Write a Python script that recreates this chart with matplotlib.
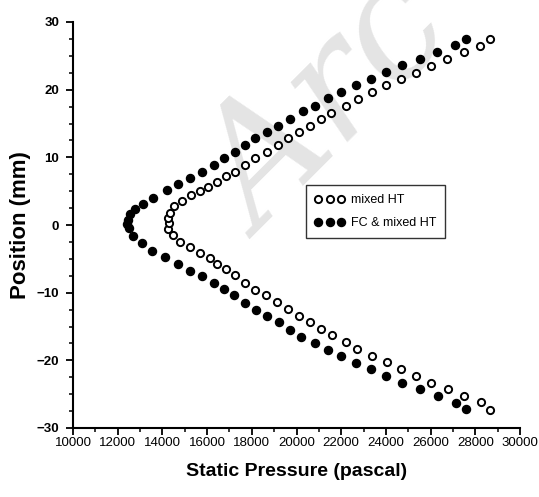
import matplotlib
matplotlib.use("Agg")
import matplotlib.pyplot as plt
from matplotlib.ticker import MultipleLocator

# mixed HT (open markers)
mixed_pos = [-27.3, -26.1, -25.3, -24.3, -23.3, -22.3, -21.3, -20.2, -19.3, -18.3,
             -17.3, -16.3, -15.3, -14.4, -13.4, -12.4, -11.4, -10.4, -9.6, -8.5,
             -7.4, -6.5, -5.7, -4.9, -4.1, -3.2, -2.5, -1.5, -0.6, 0.3,
             1.1, 1.8, 2.8, 3.5, 4.4, 5.0, 5.6, 6.4, 7.2, 7.8,
             8.8, 9.9, 10.8, 11.8, 12.8, 13.8, 14.7, 15.7, 16.6, 17.6,
             18.6, 19.7, 20.7, 21.6, 22.5, 23.5, 24.5, 25.5, 26.5, 27.5]
mixed_p = [28670, 28250, 27500, 26760, 26040, 25340, 24660, 24040, 23390, 22720,
           22200, 21600, 21080, 20600, 20100, 19610, 19130, 18650, 18160, 17710,
           17270, 16860, 16440, 16110, 15700, 15250, 14800, 14470, 14270, 14290,
           14270, 14320, 14500, 14870, 15280, 15660, 16020, 16440, 16860, 17270,
           17710, 18160, 18680, 19160, 19610, 20100, 20600, 21080, 21550, 22200,
           22750, 23390, 23990, 24660, 25340, 26040, 26730, 27500, 28220, 28660]

# FC & mixed HT (filled markers)
fc_pos = [-27.2, -26.3, -25.3, -24.3, -23.3, -22.3, -21.3, -20.4, -19.4, -18.4,
          -17.5, -16.5, -15.5, -14.4, -13.4, -12.5, -11.6, -10.4, -9.5, -8.5,
          -7.6, -6.8, -5.7, -4.7, -3.8, -2.7, -1.6, -0.5, 0.2, 0.8,
          1.6, 2.3, 3.1, 4.0, 5.1, 6.1, 7.0, 7.8, 8.9, 9.9,
          10.8, 11.8, 12.8, 13.8, 14.7, 15.7, 16.8, 17.6, 18.7, 19.6,
          20.7, 21.6, 22.6, 23.7, 24.6, 25.5, 26.6, 27.5]
fc_p = [27580, 27130, 26310, 25530, 24740, 23990, 23330, 22650, 22000, 21400,
        20810, 20220, 19730, 19210, 18660, 18210, 17710, 17220, 16770, 16290,
        15770, 15250, 14720, 14130, 13530, 13080, 12700, 12520, 12420, 12440,
        12560, 12780, 13130, 13570, 14200, 14720, 15250, 15770, 16290, 16770,
        17270, 17710, 18160, 18700, 19190, 19730, 20270, 20810, 21390, 21970,
        22650, 23320, 23990, 24700, 25530, 26280, 27090, 27580]

plt.rcParams['font.family'] = ['Liberation Sans', 'DejaVu Sans']

fig = plt.figure(figsize=(5.39, 4.97), dpi=100)
ax = fig.add_axes([73 / 539, 1 - 428 / 497, (520 - 73) / 539, (428 - 22) / 497])
ax.patch.set_alpha(0)

# faint watermark behind the data
wm = fig.text(262 / 539, 1 - 240 / 497, "Arc", color="#e4e4e4", fontsize=115,
              family="DejaVu Serif", style="italic", rotation=45,
              rotation_mode="anchor", ha="left", va="baseline")
wm.set_zorder(-1)

ax.plot(mixed_p, mixed_pos, linestyle="none", marker="o", markersize=5.2,
        markerfacecolor="white", markeredgecolor="black", markeredgewidth=1.4,
        label="mixed HT")
ax.plot(fc_p, fc_pos, linestyle="none", marker="o", markersize=5.8,
        color="black", label="FC & mixed HT")

ax.set_xlim(10000, 30000)
ax.set_ylim(-30, 30)
ax.xaxis.set_major_locator(MultipleLocator(2000))
ax.xaxis.set_minor_locator(MultipleLocator(1000))
ax.yaxis.set_major_locator(MultipleLocator(10))
ax.yaxis.set_minor_locator(MultipleLocator(2.5))
ax.spines["top"].set_visible(False)
ax.spines["right"].set_visible(False)
ax.spines["left"].set_linewidth(1.5)
ax.spines["bottom"].set_linewidth(1.5)
ax.tick_params(which="major", direction="out", length=5, width=1.3, labelsize=9.5)
ax.tick_params(which="minor", direction="out", length=3, width=1.1)
ax.tick_params(axis="x", which="major", pad=1.5)
ax.tick_params(axis="y", which="major", pad=5)
for lab in ax.get_yticklabels():
    lab.set_fontweight("bold")

ax.set_xlabel("Static Pressure (pascal)", fontsize=14, fontweight="bold", labelpad=10)
ax.set_ylabel("Position (mm)", fontsize=16, fontweight="bold", labelpad=4)

leg = ax.legend(loc="upper left", bbox_to_anchor=(0.521, 0.598), numpoints=3,
                fontsize=9, frameon=True, fancybox=False, handlelength=2.4,
                handletextpad=0.5, borderpad=0.7, labelspacing=0.9,
                borderaxespad=0)
leg.get_frame().set_edgecolor("black")
leg.get_frame().set_linewidth(1.0)

fig.savefig("out.png", dpi=100)
